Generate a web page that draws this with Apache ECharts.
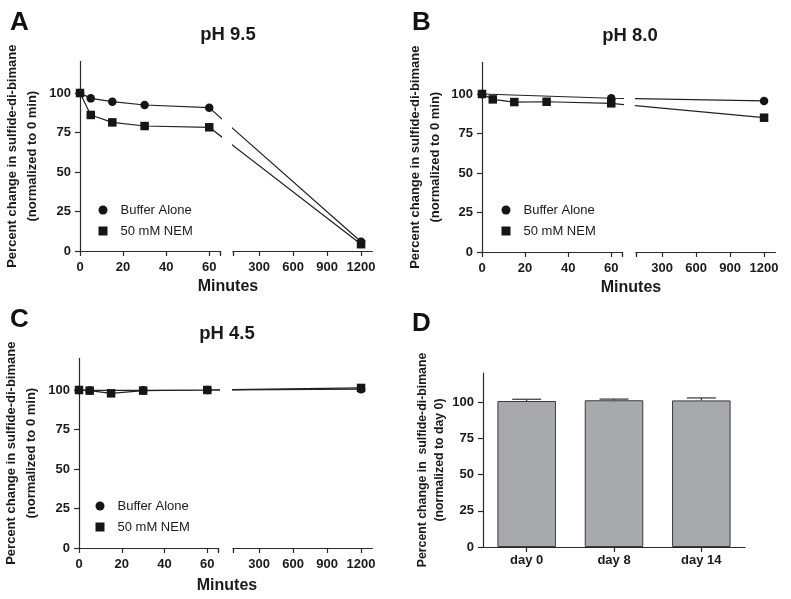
<!DOCTYPE html>
<html><head><meta charset="utf-8">
<script src="https://cdn.jsdelivr.net/npm/echarts@6/dist/echarts.min.js"></script>
<style>html,body{margin:0;padding:0;background:#fff}#c{width:791px;height:599px}</style>
</head><body><div id="c"></div>
<script>
// ---------------- data ----------------
const minutesA_buffer = [0, 5, 15, 30, 60, 1200];
const valuesA_buffer  = [100, 96.6, 94.5, 92.4, 90.7, 5.9];
const minutesA_nem    = [0, 5, 15, 30, 60, 1200];
const valuesA_nem     = [100, 86.1, 81.4, 79.1, 78.3, 4.3];

const minutesB_buffer = [0, 60, 1200];
const valuesB_buffer  = [100, 97.3, 95.6];
const minutesB_nem    = [0, 5, 15, 30, 60, 1200];
const valuesB_nem     = [100, 96.6, 94.9, 95.1, 94.1, 85.0];

const minutesC_buffer = [0, 5, 30, 60, 1200];
const valuesC_buffer  = [100, 99.7, 99.8, 100, 100.5];
const minutesC_nem    = [0, 5, 15, 30, 60, 1200];
const valuesC_nem     = [100, 99.6, 97.9, 99.6, 100, 101.3];

const dayLabels = ['day 0', 'day 8', 'day 14'];
const dayMeans  = [100.7, 101.2, 101.1];
const dayUpper  = [101.9, 102.0, 102.8];

const leftTicks  = [0, 20, 40, 60];
const rightTicks = [300, 600, 900, 1200];
const yTicks     = [0, 25, 50, 75, 100];
const leftRange  = [0, 65];
const rightRange = [70, 1300];
const yRange     = [0, 120];

const seriesNames = ['Buffer Alone', '50 mM NEM'];
const panelTitles = ['pH 9.5', 'pH 8.0', 'pH 4.5'];
const panelLetters = ['A', 'B', 'C', 'D'];
const xName = 'Minutes';
const yNameTime = 'Percent change in sulfide-di-bimane\n(normalized to 0 min)';
const yNameDay = 'Percent change in  sulfide-di-bimane\n(normalized to day 0)';

// ---------------- layout / style ----------------
const FONT = '"Liberation Sans", Arial, Helvetica, sans-serif';
const TXT = '#1a1a1a';
const AX = '#2a2a2a';

const panels = [
  {lx: 80,  rx: 233, top: 61.4,  h: 189.6, lw: 140, rw: 139.4, legX: 103, legY: 210, tx: 228, ty: 25,  mx: 228, my: 279, nameGap: 38,
   buf: [minutesA_buffer, valuesA_buffer], nem: [minutesA_nem, valuesA_nem]},
  {lx: 482, rx: 636, top: 62.4,  h: 189.6, lw: 140, rw: 139.4, legX: 506, legY: 210, tx: 630, ty: 26,  mx: 631, my: 280, nameGap: 37,
   buf: [minutesB_buffer, valuesB_buffer], nem: [minutesB_nem, valuesB_nem]},
  {lx: 78,  rx: 233, top: 358.4, h: 189.6, lw: 140, rw: 139.4, legX: 100, legY: 506, tx: 227, ty: 324, mx: 227, my: 578, nameGap: 38,
   buf: [minutesC_buffer, valuesC_buffer], nem: [minutesC_nem, valuesC_nem]}
];

function makeMap(p) {
  const kL = p.lw / (leftRange[1] - leftRange[0]);
  const kR = p.rw / (rightRange[1] - rightRange[0]);
  const off = p.rx - p.lx;
  return t => t <= leftRange[1] ? (t - leftRange[0]) * kL : off + (t - rightRange[0]) * kR;
}
function labelFormatter(ticks, u) {
  const pairs = ticks.map(t => [u(t), String(t)]);
  return v => {
    let best = pairs[0], d = Infinity;
    pairs.forEach(pr => { const dd = Math.abs(pr[0] - v); if (dd < d) { d = dd; best = pr; } });
    return best[1];
  };
}

const grid = [], xAxis = [], yAxis = [], series = [], legend = [], title = [];
const axisLabelStyle = {color: TXT, fontFamily: FONT, fontWeight: 'bold', fontSize: 13};
const lineStyleAx = {color: AX, width: 1.2};

panels.forEach((p, pi) => {
  const u = makeMap(p);
  const off = p.rx - p.lx;
  const gL = grid.length, gR = gL + 1;
  grid.push({left: p.lx, top: p.top, width: p.lw, height: p.h});
  grid.push({left: p.rx, top: p.top, width: p.rw, height: p.h});

  const xL = xAxis.length;
  xAxis.push({gridIndex: gL, type: 'value', min: 0, max: p.lw,
    axisLine: {show: true, onZero: false, lineStyle: lineStyleAx},
    axisTick: {show: true, length: 5, lineStyle: lineStyleAx, customValues: leftTicks.map(u).concat([p.lw])},
    axisLabel: Object.assign({margin: 10, customValues: leftTicks.map(u), formatter: labelFormatter(leftTicks, u)}, axisLabelStyle),
    splitLine: {show: false}});
  const xR = xAxis.length;
  xAxis.push({gridIndex: gR, type: 'value', min: off, max: off + p.rw,
    axisLine: {show: true, onZero: false, lineStyle: lineStyleAx},
    axisTick: {show: true, length: 5, lineStyle: lineStyleAx, customValues: [off].concat(rightTicks.map(u))},
    axisLabel: Object.assign({margin: 10, customValues: rightTicks.map(u), formatter: labelFormatter(rightTicks, u)}, axisLabelStyle),
    splitLine: {show: false}});
  xAxis.push({gridIndex: gL, type: 'value', min: 0, max: p.lw,
    axisLine: {show: false}, axisLabel: {show: false}, splitLine: {show: false},
    axisTick: {show: true, inside: true, length: 4, lineStyle: lineStyleAx, customValues: [p.lw]}});
  xAxis.push({gridIndex: gR, type: 'value', min: off, max: off + p.rw,
    axisLine: {show: false}, axisLabel: {show: false}, splitLine: {show: false},
    axisTick: {show: true, inside: true, length: 4, lineStyle: lineStyleAx, customValues: [off]}});

  const yL = yAxis.length;
  yAxis.push({gridIndex: gL, type: 'value', min: yRange[0], max: yRange[1],
    axisLine: {show: true, onZero: false, lineStyle: lineStyleAx},
    axisTick: {show: true, length: 5, lineStyle: lineStyleAx, customValues: yTicks},
    axisLabel: Object.assign({margin: 9, customValues: yTicks}, axisLabelStyle),
    splitLine: {show: false},
    name: yNameTime, nameLocation: 'middle', nameRotate: 90, nameGap: p.nameGap,
    nameTextStyle: {color: TXT, fontFamily: FONT, fontWeight: 'bold', fontSize: 13, lineHeight: 20, align: 'center'}});
  const yR = yAxis.length;
  yAxis.push({gridIndex: gR, type: 'value', min: yRange[0], max: yRange[1], show: false, splitLine: {show: false}});

  [[xL, yL], [xR, yR]].forEach(([xi, yi]) => {
    [p.buf, p.nem].forEach((s, si) => {
      series.push({
        type: 'line', name: seriesNames[si], xAxisIndex: xi, yAxisIndex: yi,
        data: s[0].map((t, i) => [u(t), s[1][i]]),
        symbol: si === 0 ? 'circle' : 'rect', symbolSize: 8.5,
        itemStyle: {color: '#151515'}, lineStyle: {color: '#222', width: 1.2},
        clip: true, animation: false, z: 2 + si
      });
    });
  });

  legend.push({left: p.legX - 4.5, top: p.legY - 8, orient: 'vertical', itemWidth: 9, itemHeight: 9, itemGap: 5,
    selectedMode: false, padding: 0,
    data: [{name: seriesNames[0], icon: 'circle'}, {name: seriesNames[1], icon: 'rect'}],
    textStyle: {color: TXT, fontFamily: FONT, fontSize: 13, lineHeight: 16, padding: [0, 0, 0, 8]}});

  title.push({text: panelTitles[pi], left: p.tx, top: p.ty, textAlign: 'center', padding: 0,
    textStyle: {color: TXT, fontFamily: FONT, fontWeight: 'bold', fontSize: 18.5}});
  title.push({text: xName, left: p.mx, top: p.my, textAlign: 'center', padding: 0,
    textStyle: {color: TXT, fontFamily: FONT, fontWeight: 'bold', fontSize: 16}});
});

[[10, 10], [412, 10], [10, 307], [412, 311]].forEach((pos, i) => {
  title.push({text: panelLetters[i], left: pos[0], top: pos[1], padding: 0,
    textStyle: {color: '#111', fontFamily: FONT, fontWeight: 'bold', fontSize: 26}});
});

// panel D
const gD = grid.length;
grid.push({left: 483, top: 373, width: 262, height: 174});
const xD = xAxis.length;
xAxis.push({gridIndex: gD, type: 'category', data: dayLabels, boundaryGap: true,
  axisLine: {show: true, lineStyle: lineStyleAx},
  axisTick: {show: true, alignWithLabel: true, length: 5, lineStyle: lineStyleAx},
  axisLabel: Object.assign({margin: 7}, axisLabelStyle, {fontSize: 13})});
const yD = yAxis.length;
yAxis.push({gridIndex: gD, type: 'value', min: yRange[0], max: yRange[1],
  axisLine: {show: true, lineStyle: lineStyleAx},
  axisTick: {show: true, length: 5, lineStyle: lineStyleAx, customValues: yTicks},
  axisLabel: Object.assign({margin: 9, customValues: yTicks}, axisLabelStyle),
  splitLine: {show: false},
  name: yNameDay, nameLocation: 'middle', nameRotate: 90, nameGap: 32,
  nameTextStyle: {color: TXT, fontFamily: FONT, fontWeight: 'bold', fontSize: 12.3, lineHeight: 17, align: 'center'}});
series.push({type: 'bar', xAxisIndex: xD, yAxisIndex: yD, data: dayMeans, barCategoryGap: '33%',
  itemStyle: {color: '#a7a9ac', borderColor: '#3a3a3a', borderWidth: 1}, animation: false});
series.push({type: 'custom', xAxisIndex: xD, yAxisIndex: yD, animation: false, z: 5,
  data: dayLabels.map((d, i) => [i, dayMeans[i], dayUpper[i]]),
  encode: {x: 0, y: 2},
  renderItem: (params, api) => {
    const i = api.value(0), m = api.value(1), up = api.value(2);
    const pm = api.coord([i, m]), pu = api.coord([i, up]);
    const hw = 14.5;
    const st = {stroke: '#333', lineWidth: 1.2};
    return {type: 'group', children: [
      {type: 'line', shape: {x1: pm[0], y1: pm[1], x2: pu[0], y2: pu[1]}, style: st},
      {type: 'line', shape: {x1: pu[0] - hw, y1: pu[1], x2: pu[0] + hw, y2: pu[1]}, style: st}
    ]};
  }});

const chart = echarts.init(document.getElementById('c'), null, {renderer: 'canvas'});
chart.setOption({backgroundColor: '#fff', animation: false, grid, xAxis, yAxis, series, legend, title});
</script></body></html>
